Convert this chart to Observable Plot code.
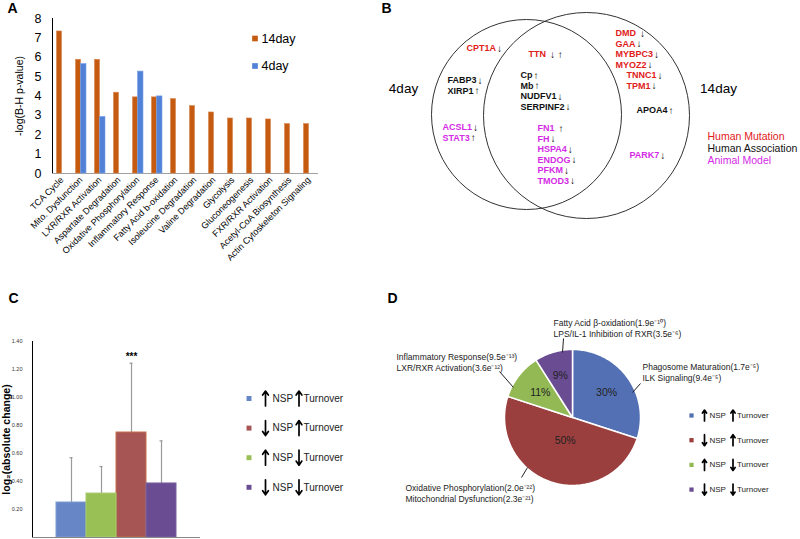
<!DOCTYPE html>
<html><head><meta charset="utf-8">
<script src="https://cdn.jsdelivr.net/npm/d3@7"></script>
<script src="https://cdn.jsdelivr.net/npm/@observablehq/plot@0.6"></script>
<style>
body{margin:0;background:#fff;}
#fig{position:relative;width:800px;height:539px;overflow:hidden;font-family:"Liberation Sans",Arial,sans-serif;}
#fig > div{position:absolute;}
#fig svg{overflow:visible;}
#pa g[aria-label="y-axis tick label"] text, #pa g[aria-label="y-axis"] .tick text{font-size:12.5px;}
#pa g[aria-label="y-axis label"] text{font-size:10.5px;}
#pc g[aria-label="y-axis tick label"] text, #pc g[aria-label="y-axis"] .tick text{font-size:5.5px;fill:#333;}
#pc g[aria-label="y-axis label"] text{font-size:10.5px;font-weight:bold;}
</style></head><body>
<div id="fig"><div id="pa" style="left:0;top:0"></div><div id="pc" style="left:0;top:330px"></div><div id="ov" style="left:0;top:0"></div></div>
<script>
// ---------- Panel A data ----------
const pathways = ["TCA Cycle","Mito. Dysfunction","LXR/RXR Activation","Aspartate Degradation","Oxidative Phosphorylation","Inflammatory Response","Fatty Acid b-oxidation","Isoleucine Degradation","Valine Degradation","Glycolysis","Gluconeogenesis","FXR/RXR Activation","Acetyl-CoA Biosynthesis","Actin Cytoskeleton Signaling"];
const day14 = [7.33,5.87,5.87,4.17,3.93,3.93,3.84,3.48,3.15,2.84,2.84,2.79,2.55,2.55];
const day4 = [null,5.65,2.92,null,5.26,3.98,null,null,null,null,null,null,null,null];
const seriesA = ["14day","4day"];
const yTicksA = [0,1,2,3,4,5,6,7,8];

// ---------- Panel B data ----------
const vennSets = ["4day","14day"];
const evidenceTypes = ["Human Mutation","Human Association","Animal Model"];
const genes4only = [["CPT1A","↓","Human Mutation"],["FABP3","↓","Human Association"],["XIRP1","↑","Human Association"],["ACSL1","↓","Animal Model"],["STAT3","↑","Animal Model"]];
const genesShared = [["TTN","↓ ↑","Human Mutation"],["Cp","↑","Human Association"],["Mb","↑","Human Association"],["NUDFV1","↓","Human Association"],["SERPINF2","↓","Human Association"],["FN1","↑","Animal Model"],["FH","↓","Animal Model"],["HSPA4","↓","Animal Model"],["ENDOG","↓","Animal Model"],["PFKM","↓","Animal Model"],["TMOD3","↓","Animal Model"]];
const genes14only = [["DMD","↓","Human Mutation"],["GAA","↓","Human Mutation"],["MYBPC3","↓","Human Mutation"],["MYOZ2","↓","Human Mutation"],["TNNC1","↓","Human Mutation"],["TPM1","↓","Human Mutation"],["APOA4","↑","Human Association"],["PARK7","↓","Animal Model"]];

// ---------- Panel C / D data ----------
const groups = ["upNSP-upTurnover","downNSP-upTurnover","upNSP-downTurnover","downNSP-downTurnover"];
const nspDir = ["up","down","up","down"];
const turnoverDir = ["up","up","down","down"];
const barOrderC = ["upNSP-upTurnover","upNSP-downTurnover","downNSP-upTurnover","downNSP-downTurnover"];
const meanC = [0.25,0.75,0.314,0.386];      // by groups order
const sdC = [0.32,0.495,0.193,0.304];
const sigC = ["","***","",""];
const yTicksC = [0.2,0.4,0.6,0.8,1.0,1.2,1.4];
const pieShare = [30,50,11,9];               // by groups order
const pieLabels = ["30%","50%","11%","9%"];
const pieNotes = [
  ["Phagosome Maturation(1.7e⁻⁵)","ILK Signaling(9.4e⁻⁵)"],
  ["Oxidative Phosphorylation(2.0e⁻²²)","Mitochondrial Dysfunction(2.3e⁻²¹)"],
  ["Inflammatory Response(9.5e⁻¹³)","LXR/RXR Activation(3.6e⁻¹²)"],
  ["Fatty Acid β-oxidation(1.9e⁻¹⁰)","LPS/IL-1 Inhibition of RXR(3.5e⁻⁶)"]
];

// ---------- styles / layout ----------
const FONT = '"Liberation Sans", Arial, sans-serif';
const colA = {"14day":"#c55a11","4day":"#5282d8"};
const evColor = {"Human Mutation":"#e0201b","Human Association":"#111","Animal Model":"#d42ae6"};
const barColC = {"upNSP-upTurnover":"#6786c6","downNSP-upTurnover":"#a65454","upNSP-downTurnover":"#98c055","downNSP-downTurnover":"#6a4c92"};
const barStrokeC = {"upNSP-upTurnover":"#7f9bd3","downNSP-upTurnover":"#c8704e","upNSP-downTurnover":"#a9cc6c","downNSP-downTurnover":"#7b62a2"};
const pieCol = {"upNSP-upTurnover":"#5470b4","downNSP-upTurnover":"#9b3f3e","upNSP-downTurnover":"#93b955","downNSP-downTurnover":"#6a4c93"};

const layout = {
  letters:[["A",7,8],["B",381,8],["C",8,298],["D",387,298]],
  venn:{circles:{"4day":[526,114,95],"14day":[586,115,103]}, setLabel:{"4day":[403,88],"14day":[718,88]},
        blocks:{"4day|Human Mutation":[466,48],"4day|Human Association":[447,80],"4day|Animal Model":[442,127],
                "both|Human Mutation":[528,54],"both|Human Association":[520,75],"both|Animal Model":[537,128],
                "14day|Human Mutation":[615,33],"14day|Human Association":[636,110],"14day|Animal Model":[629,155]},
        indent:{"14day|Human Mutation":[0,0,0,0,11,11]}, lh:10.45, legend:[707,136,12.3]},
  legendC:{x:248.5,y:398,dy:29.6,arrow1:265,nsp:272,arrow2:298.5,turn:303,half:7.5},
  legendD:{x:691,y:415,dy:24.7,arrow1:704,nsp:709,arrow2:732.5,turn:736.5,half:5.5},
  pie:{cx:572,cy:417,r:68,labelR:[0.62,0.35,0.6,0.64],
       notes:[[642,367],[405,488],[396,357],[553,323]],
       leaders:[[640,383,632,392],[527,467,521,477],[499,371,513,387],[562,352,563,338]]}
};

// ---------- Panel A ----------
const rowsA = pathways.map((p,i)=>({p, d14:day14[i], d4:day4[i]}));
document.getElementById("pa").append(Plot.plot({
  width:330,height:270,marginLeft:52,marginRight:12,marginTop:18,marginBottom:97,
  style:{fontFamily:FONT,fontSize:"9px",color:"#000",background:"transparent"},
  x:{domain:pathways,padding:0,tickRotate:-45,tickSize:0,tickPadding:5,label:null},
  y:{domain:[0,8],ticks:yTicksA,tickSize:0,tickPadding:11,line:true,label:"-log(B-H p-value)",labelAnchor:"center",labelOffset:37,labelArrow:"none"},
  marks:[
    Plot.ruleY([0],{stroke:"#a0a0a0"}),
    Plot.barY(rowsA,{x:"p",y:"d14",fill:colA["14day"],stroke:"#d9844c",strokeWidth:0.6,insetLeft:4.5,insetRight:9.5}),
    Plot.barY(rowsA.filter(d=>d.d4!=null),{x:"p",y:"d4",fill:colA["4day"],stroke:"#79a0e6",strokeWidth:0.6,insetLeft:9.5,insetRight:4})
  ]
}));

// ---------- Panel C ----------
const rowsC = groups.map((g,i)=>({g, mean:meanC[i], top:meanC[i]+sdC[i], sig:sigC[i]}));
document.getElementById("pc").append(Plot.plot({
  width:230,height:209,marginLeft:32,marginRight:30,marginTop:11,marginBottom:2,
  style:{fontFamily:FONT,fontSize:"6px",color:"#000",background:"transparent"},
  x:{domain:barOrderC,paddingInner:0,paddingOuter:0.75,axis:null},
  y:{domain:[0,1.4],ticks:yTicksC,tickFormat:d3.format(".2f"),tickSize:0,tickPadding:10,line:true,label:"log₂(absolute change)",labelAnchor:"center",labelOffset:30,labelArrow:"none"},
  color:{type:"identity"},
  marks:[
    Plot.ruleX(rowsC,{x:"g",y1:"mean",y2:"top",stroke:"#9a9a9a",strokeWidth:1.2}),
    Plot.tickY(rowsC,{x:"g",y:"top",stroke:"#9a9a9a",strokeWidth:1.2,insetLeft:13.5,insetRight:13.5}),
    Plot.barY(rowsC,{x:"g",y:"mean",fill:d=>barColC[d.g],stroke:d=>barStrokeC[d.g],strokeWidth:1}),
    Plot.ruleY([0],{stroke:"#888"}),
    Plot.text(rowsC.filter(d=>d.sig),{x:"g",y:"top",text:"sig",dy:-6,fontSize:10,fontWeight:"bold"})
  ]
}));

// ---------- Overlay: letters, legend A, Venn (B), legend C, pie (D) ----------
const ctx = document.createElement("canvas").getContext("2d");
ctx.font = `bold 9px ${FONT}`;
const geneRows = [];
[["4day",genes4only],["both",genesShared],["14day",genes14only]].forEach(([region,list])=>{
  const counters = {};
  list.forEach(([name,dir,ev])=>{
    const key = region+"|"+ev;
    const k = counters[key] = (counters[key]??-1)+1;
    const [bx,by] = layout.venn.blocks[key];
    const ind = (layout.venn.indent[key]||[])[k]||0;
    const x = bx+ind, y = by+k*layout.venn.lh;
    geneRows.push({name,dir,ev,x,y,ax:x+ctx.measureText(name).width+(dir.length>1||name==="DMD"||name==="FN1"?4:1)});
  });
});
const vennRows = vennSets.map(s=>{const [cx,cy,r]=layout.venn.circles[s];return {s,cx,cy,r};});
const evRows = evidenceTypes.map((e,i)=>({e,x:layout.venn.legend[0],y:layout.venn.legend[1]+i*layout.venn.legend[2]}));

function legendMarks(L,fs,sq,colMap){
  const order=["upNSP-upTurnover","downNSP-upTurnover","upNSP-downTurnover","downNSP-downTurnover"];
  const rows=order.map((g,i)=>{const gi=groups.indexOf(g);return {g,y:L.y+i*L.dy,nsp:nspDir[gi],tu:turnoverDir[gi]};});
  const arrows=rows.flatMap(r=>[
    {x:L.arrow1,y1:r.nsp==="up"?r.y+L.half:r.y-L.half,y2:r.nsp==="up"?r.y-L.half:r.y+L.half},
    {x:L.arrow2,y1:r.tu==="up"?r.y+L.half:r.y-L.half,y2:r.tu==="up"?r.y-L.half:r.y+L.half}]);
  return [
    Plot.dot(rows,{x:()=>L.x,y:"y",symbol:"square",r:sq,fill:d=>colMap[d.g],stroke:null}),
    Plot.arrow(arrows,{x1:"x",x2:"x",y1:"y1",y2:"y2",stroke:"#000",strokeWidth:1.7,headLength:L.half*0.8,headAngle:70}),
    Plot.text(rows,{x:()=>L.nsp,y:"y",text:()=>"NSP",textAnchor:"start",fontSize:fs,fill:"#222"}),
    Plot.text(rows,{x:()=>L.turn,y:"y",text:()=>"Turnover",textAnchor:"start",fontSize:fs,fill:"#222"})
  ];
}

// pie geometry from the shares
const P = layout.pie;
const arcs = d3.pie().sort(null).value(d=>d)(pieShare);
const pieMarks = arcs.map((a,k)=>{
  const n=Math.max(4,Math.ceil((a.endAngle-a.startAngle)/0.02));
  const pts=[{x:P.cx,y:P.cy}];
  for(let j=0;j<=n;j++){const t=a.startAngle+(a.endAngle-a.startAngle)*j/n;pts.push({x:P.cx+P.r*Math.sin(t),y:P.cy-P.r*Math.cos(t)});}
  pts.push({x:P.cx,y:P.cy});
  return Plot.line(pts,{x:"x",y:"y",fill:pieCol[groups[k]],stroke:"white",strokeWidth:1.5,curve:"linear"});
});
const pctRows = arcs.map((a,k)=>{const m=(a.startAngle+a.endAngle)/2,rr=P.r*P.labelR[k];return {t:pieLabels[k],x:P.cx+rr*Math.sin(m),y:P.cy-rr*Math.cos(m)};});
const noteRows = pieNotes.flatMap((lines,k)=>lines.map((t,j)=>({t,x:P.notes[k][0],y:P.notes[k][1]+j*11})));
const leaderRows = P.leaders.map(([x1,y1,x2,y2])=>({x1,y1,x2,y2}));
const legendARows = seriesA.map((s,i)=>({s,y:38+i*27.5}));

document.getElementById("ov").append(Plot.plot({
  width:800,height:539,margin:0,
  style:{fontFamily:FONT,background:"transparent",color:"#000"},
  x:{domain:[0,800],range:[0,800],axis:null},
  y:{domain:[0,539],range:[0,539],axis:null},
  r:{type:"identity"},
  color:{type:"identity"},
  marks:[
    Plot.text(layout.letters,{x:d=>d[1],y:d=>d[2],text:d=>d[0],fontSize:14,fontWeight:"bold",textAnchor:"start"}),
    // legend A
    Plot.dot(legendARows,{x:()=>254.5,y:"y",symbol:"square",r:3.2,fill:d=>colA[d.s],stroke:null}),
    Plot.text(legendARows,{x:()=>261,y:"y",text:"s",textAnchor:"start",fontSize:12.5}),
    // Venn
    Plot.dot(vennRows,{x:"cx",y:"cy",r:"r",stroke:"#333",strokeWidth:1,fill:"none"}),
    Plot.text(vennSets,{x:s=>layout.venn.setLabel[s][0],y:s=>layout.venn.setLabel[s][1],text:s=>s,fontSize:13.5}),
    Plot.text(geneRows,{x:"x",y:"y",text:"name",fill:d=>evColor[d.ev],fontSize:9,fontWeight:"bold",textAnchor:"start"}),
    Plot.text(geneRows,{x:"ax",y:"y",text:"dir",fill:"#000",fontSize:10,fontWeight:"bold",textAnchor:"start"}),
    Plot.text(evRows,{x:"x",y:"y",text:"e",fill:d=>evColor[d.e],fontSize:10.5,textAnchor:"start"}),
    // legend C
    ...legendMarks(layout.legendC,10,2.8,barColC),
    // pie D
    ...pieMarks,
    Plot.text(pctRows,{x:"x",y:"y",text:"t",fontSize:10.5,fill:"#222"}),
    Plot.link(leaderRows,{x1:"x1",y1:"y1",x2:"x2",y2:"y2",stroke:"#222",strokeWidth:1}),
    Plot.text(noteRows,{x:"x",y:"y",text:"t",fontSize:8.5,textAnchor:"start",fill:"#222"}),
    ...legendMarks(layout.legendD,8,2.4,pieCol)
  ]
}));
</script></body></html>
